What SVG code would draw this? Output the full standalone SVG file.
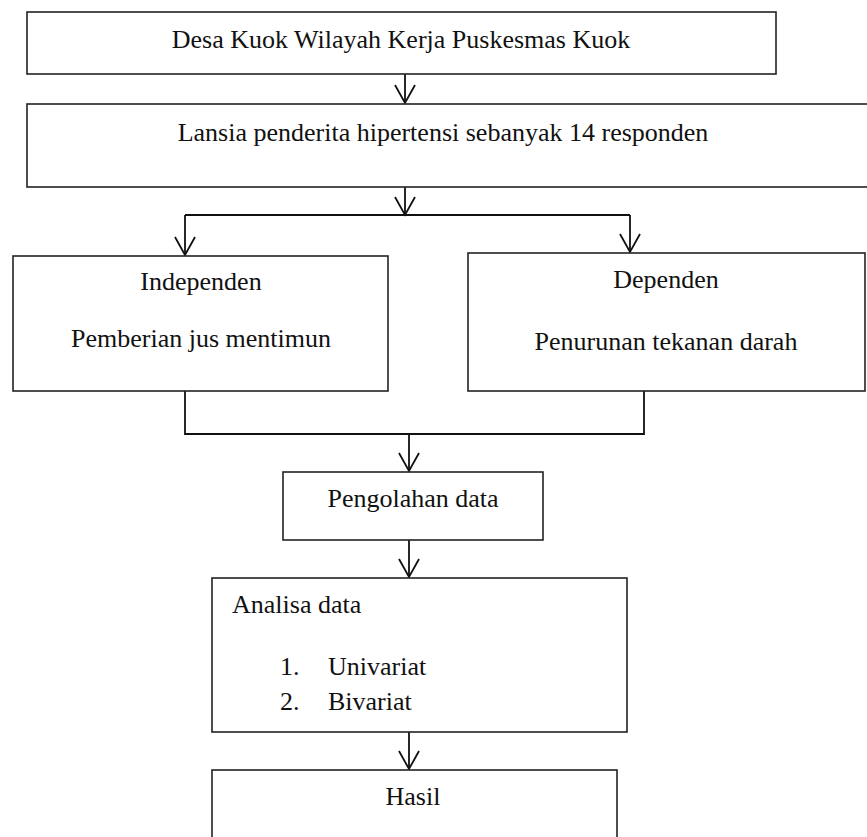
<svg xmlns="http://www.w3.org/2000/svg" width="867" height="837" viewBox="0 0 867 837">
<style>
.box{fill:#fff;stroke:#222;stroke-width:1.6}
.t{font-family:"Liberation Serif","Times New Roman",serif;font-size:26px;fill:#111}
.c{text-anchor:middle}
.ln{fill:none;stroke:#111;stroke-width:1.8}
</style>
<defs>
<marker id="ah" markerUnits="userSpaceOnUse" markerWidth="22" markerHeight="24" viewBox="-2 -12 22 24" refX="18" refY="0" orient="auto">
<path d="M0,-10 L18,0 L0,10" fill="none" stroke="#111" stroke-width="1.8"/>
</marker>
</defs>
<rect width="867" height="837" fill="#fff"/>
<g id="connectors">
<line class="ln" x1="405" y1="74" x2="405" y2="103" marker-end="url(#ah)"/>
<line class="ln" x1="405" y1="187" x2="405" y2="215" marker-end="url(#ah)"/>
<line class="ln" x1="185" y1="215" x2="630" y2="215"/>
<line class="ln" x1="185" y1="215" x2="185" y2="255" marker-end="url(#ah)"/>
<line class="ln" x1="630" y1="215" x2="630" y2="252" marker-end="url(#ah)"/>
<polyline class="ln" points="185,391 185,434 644,434 644,391"/>
<line class="ln" x1="409" y1="434" x2="409" y2="471" marker-end="url(#ah)"/>
<line class="ln" x1="409" y1="540" x2="409" y2="577" marker-end="url(#ah)"/>
<line class="ln" x1="409" y1="732" x2="409" y2="769" marker-end="url(#ah)"/>
</g>
<g id="lokasi">
<rect class="box" x="27" y="12" width="749" height="62"/>
<text class="t c" x="401" y="48">Desa Kuok Wilayah Kerja Puskesmas Kuok</text>
</g>
<g id="sampel">
<rect class="box" x="27" y="104" width="850" height="83"/>
<text class="t c" x="443" y="141">Lansia penderita hipertensi sebanyak 14 responden</text>
</g>
<g id="independen">
<rect class="box" x="13" y="256" width="375" height="135"/>
<text class="t c" x="201" y="290">Independen</text>
<text class="t c" x="201" y="347">Pemberian jus mentimun</text>
</g>
<g id="dependen">
<rect class="box" x="468" y="253" width="397" height="138"/>
<text class="t c" x="666" y="288">Dependen</text>
<text class="t c" x="666" y="350">Penurunan tekanan darah</text>
</g>
<g id="pengolahan">
<rect class="box" x="283" y="472" width="260" height="68"/>
<text class="t c" x="413" y="507">Pengolahan data</text>
</g>
<g id="analisa">
<rect class="box" x="212" y="578" width="415" height="154"/>
<text class="t" x="232" y="613">Analisa data</text>
<text class="t" x="280" y="675">1.</text>
<text class="t" x="328" y="675">Univariat</text>
<text class="t" x="280" y="710">2.</text>
<text class="t" x="328" y="710">Bivariat</text>
</g>
<g id="hasil">
<rect class="box" x="212" y="770" width="405" height="90"/>
<text class="t c" x="413" y="805">Hasil</text>
</g>
</svg>
